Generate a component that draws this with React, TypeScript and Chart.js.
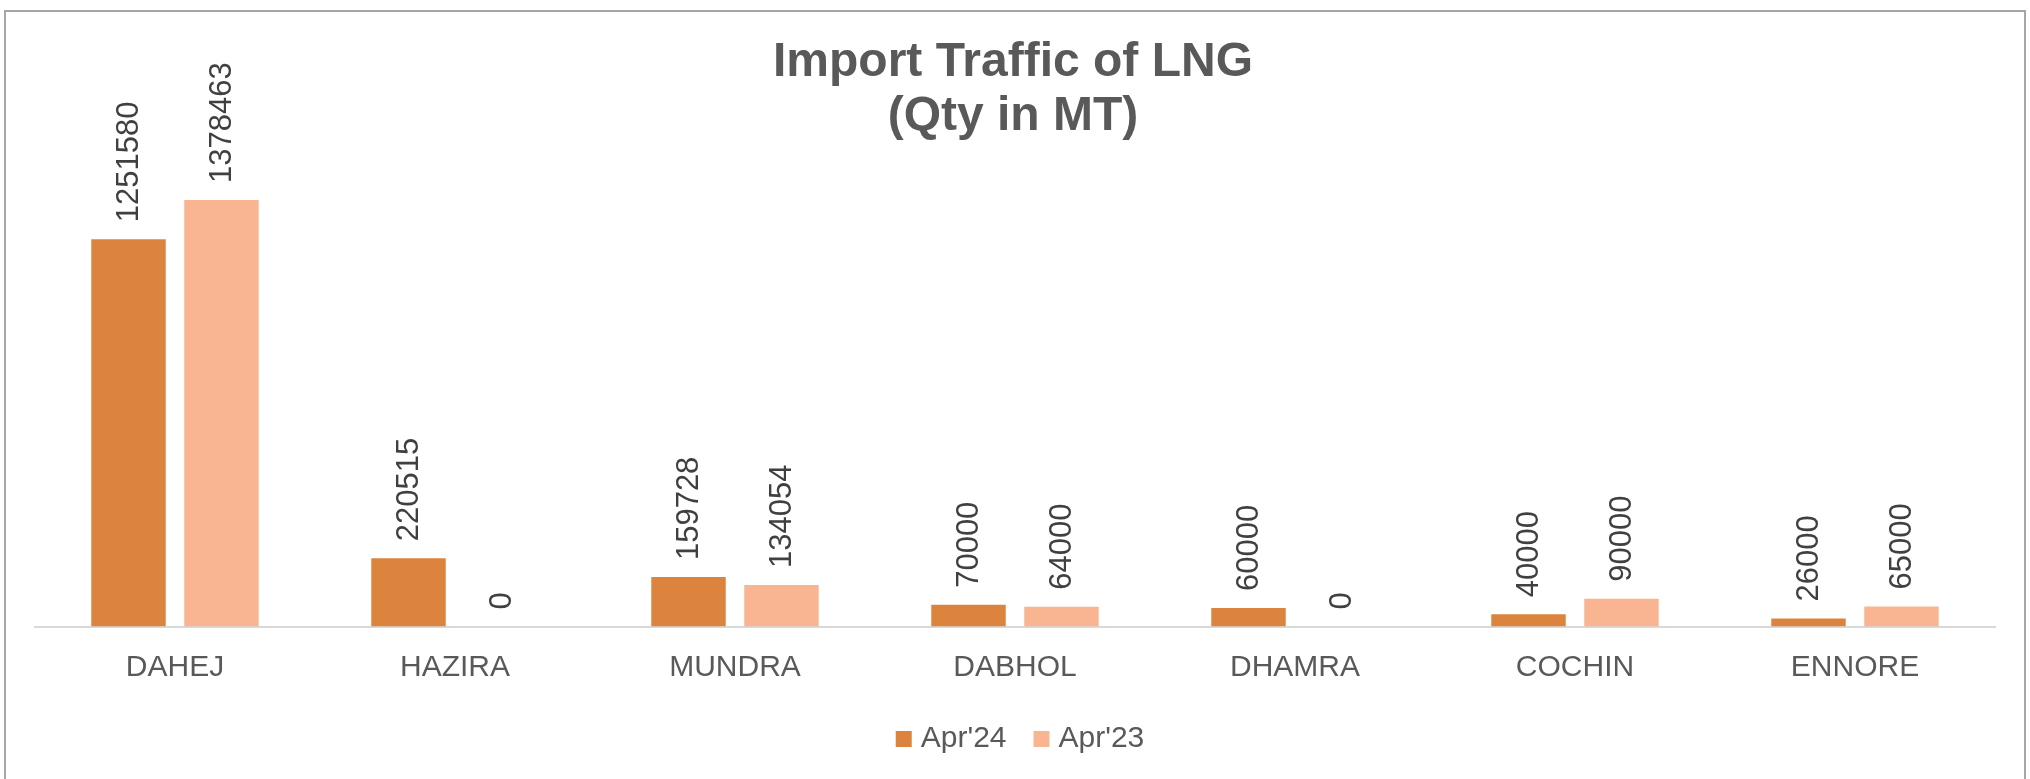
import React, { useEffect, useRef } from "react";
import { Chart, registerables } from "chart.js";

Chart.register(...registerables);

const categories = ["DAHEJ", "HAZIRA", "MUNDRA", "DABHOL", "DHAMRA", "COCHIN", "ENNORE"];
const apr24 = [1251580, 220515, 159728, 70000, 60000, 40000, 26000];
const apr23 = [1378463, 0, 134054, 64000, 0, 90000, 65000];
const seriesLabels = ["Apr'24", "Apr'23"];
const seriesColors = ["#DC843E", "#F9B592"];
const titleLines = ["Import Traffic of LNG", "(Qty in MT)"];
const yMin = 0;
const yMax = 1600000;

const FONT = "'Liberation Sans', Arial, Helvetica, sans-serif";

const titlePlugin = {
  id: "customTitle",
  afterDraw(chart: any) {
    const ctx = chart.ctx;
    ctx.save();
    ctx.font = `bold 48px ${FONT}`;
    ctx.fillStyle = "#595959";
    ctx.textAlign = "center";
    ctx.textBaseline = "alphabetic";
    ctx.fillText(titleLines[0], 1013, 76);
    ctx.fillText(titleLines[1], 1013, 130);
    ctx.restore();
  },
};

const legendPlugin = {
  id: "customLegend",
  afterDraw(chart: any) {
    const ctx = chart.ctx;
    ctx.save();
    ctx.font = `30px ${FONT}`;
    ctx.textBaseline = "alphabetic";
    ctx.textAlign = "left";
    const box = 16;
    const boxGap = 9;
    const itemGap = 27;
    const widths = seriesLabels.map((l) => ctx.measureText(l).width);
    const total = widths.reduce((a, w) => a + box + boxGap + w, 0) + itemGap * (seriesLabels.length - 1);
    let x = 1020 - total / 2;
    const boxTop = 731;
    seriesLabels.forEach((label, i) => {
      ctx.fillStyle = seriesColors[i];
      ctx.fillRect(x, boxTop, box, box);
      x += box + boxGap;
      ctx.fillStyle = "#595959";
      ctx.fillText(label, x, 747);
      x += widths[i] + itemGap;
    });
    ctx.restore();
  },
};

const dataLabelPlugin = {
  id: "barValueLabels",
  afterDatasetsDraw(chart: any) {
    const ctx = chart.ctx;
    ctx.save();
    ctx.font = `31px ${FONT}`;
    ctx.fillStyle = "#404040";
    ctx.textAlign = "left";
    ctx.textBaseline = "middle";
    chart.data.datasets.forEach((ds: any, di: number) => {
      const meta = chart.getDatasetMeta(di);
      meta.data.forEach((el: any, i: number) => {
        const v = ds.data[i];
        ctx.save();
        ctx.translate(el.x + 1, el.y - 17);
        ctx.rotate(-Math.PI / 2);
        ctx.fillText(String(v), 0, 0);
        ctx.restore();
      });
    });
    ctx.restore();
  },
};

export default function App() {
  const ref = useRef<HTMLCanvasElement | null>(null);

  useEffect(() => {
    if (!ref.current) return;
    Chart.defaults.font.family = FONT;
    const chart = new Chart(ref.current, {
      type: "bar",
      data: {
        labels: categories,
        datasets: [
          {
            label: seriesLabels[0],
            data: apr24,
            backgroundColor: seriesColors[0],
            categoryPercentage: 0.664,
            barPercentage: 0.801,
          },
          {
            label: seriesLabels[1],
            data: apr23,
            backgroundColor: seriesColors[1],
            categoryPercentage: 0.664,
            barPercentage: 0.801,
          },
        ],
      },
      options: {
        responsive: false,
        animation: false,
        layout: { padding: { top: 131.5, bottom: 70.5, left: 35, right: 35 } },
        plugins: {
          legend: { display: false },
          title: { display: false },
          tooltip: { enabled: false },
        },
        scales: {
          x: {
            grid: { display: false, drawTicks: false },
            border: { display: true, color: "#D9D9D9", width: 2 },
            ticks: { font: { size: 30, family: FONT }, color: "#595959", padding: 23 },
          },
          y: { display: false, min: yMin, max: yMax },
        },
      },
      plugins: [dataLabelPlugin, titlePlugin, legendPlugin],
    });
    return () => chart.destroy();
  }, []);

  return (
    <>
      <div
        style={{
          position: "absolute",
          left: 4,
          top: 10,
          width: 2022,
          height: 769,
          boxSizing: "border-box",
          borderTop: "2px solid #A6A6A6",
          borderLeft: "2px solid #A6A6A6",
          borderRight: "2px solid #A6A6A6",
          background: "#FFFFFF",
        }}
      />
      <canvas
        ref={ref}
        width={2030}
        height={779}
        style={{ position: "absolute", left: 0, top: 0, width: 2030, height: 779 }}
      />
    </>
  );
}
